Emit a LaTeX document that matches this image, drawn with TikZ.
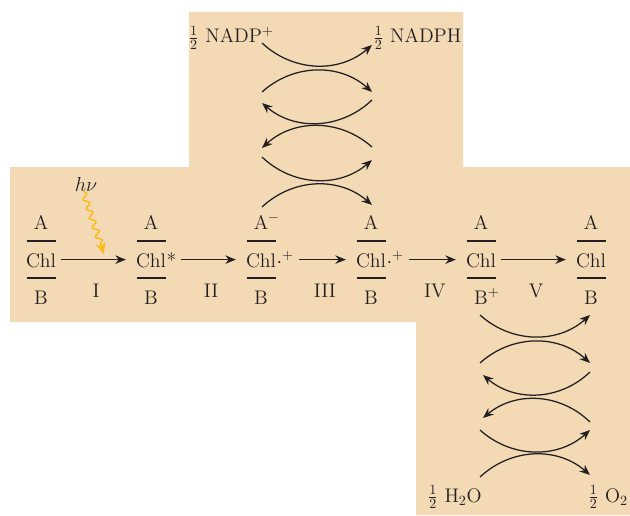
\documentclass[tikz,border=0pt]{standalone}
\usepackage{amsmath}
\usepackage{xcolor}
\usepackage{tikz}
\usetikzlibrary{arrows.meta,positioning,calc,decorations.pathmorphing}
\definecolor{psbeige}{RGB}{243,218,181}
\definecolor{psink}{RGB}{35,31,32}
\definecolor{psgold}{RGB}{253,185,19}

\begin{document}
\begin{tikzpicture}[
  x=0.025cm, y=0.025cm,
  font=\fontsize{14}{16}\selectfont,
  color=psink,
  lbl/.style={inner sep=0pt, anchor=base},
  chem/.style={inner sep=0pt, anchor=base, text height=10.5pt, text depth=0pt},
  supr/.style={inner sep=0pt, anchor=base west, text height=10.5pt, text depth=0pt},
  bar/.style={line width=1.1pt},
  stage/.style={inner sep=0pt, below=17pt},
  >={Stealth[length=7.5pt,width=6pt]},
  arrline/.style={->, line width=0.9pt, shorten <=3.5pt, shorten >=7pt},
  cyc/.style={->, line width=0.9pt},
  photon/.style={decorate, decoration={snake, amplitude=2pt, segment length=7pt, post length=6pt},
    -{Stealth[length=8pt,width=7pt]}, draw=psgold, line width=1pt},
]
\useasboundingbox (0,0) rectangle (630,515);

% ============ Background panel ============
\fill[psbeige] (189,503) -- (463,503) -- (463,348) -- (630,348) -- (630,0) -- (416,0)
  -- (416,193) -- (10,193) -- (10,348) -- (189,348) -- cycle;

% ============ A row ============
\node[lbl] (a1) at (41,286) {A};
\node[lbl] (a2) at (151,286) {A};
\node[lbl] (a3) at (261,286) {A\rlap{$^{-}$}};
\node[lbl] (a4) at (371,286) {A};
\node[lbl] (a5) at (481,286) {A};
\node[lbl] (a6) at (591,286) {A};

% ============ Chl row ============
\node[chem] (c1) at (41,248) {Chl};
\node[chem] (c2) at (151,248) {Chl};
\node[supr] (s2) at (c2.base east) {*};
\node[chem] (c3) at (261,248) {Chl};
\node[supr] (s3) at (c3.base east) {$\cdot^{+}$};
\node[chem] (c4) at (371,248) {Chl};
\node[supr] (s4) at (c4.base east) {$\cdot^{+}$};
\node[chem] (c5) at (481,248) {Chl};
\node[chem] (c6) at (591,248) {Chl};

% ============ B row ============
\node[lbl] (b1) at (41,211) {B};
\node[lbl] (b2) at (151,211) {B};
\node[lbl] (b3) at (261,211) {B};
\node[lbl] (b4) at (371,211) {B};
\node[lbl] (b5) at (481,211) {B\rlap{$^{+}$}};
\node[lbl] (b6) at (591,211) {B};

% bars above and below Chl
\draw[bar] (26.5,274) -- +(29,0) (26.5,237) -- +(29,0);
\draw[bar] (136.5,274) -- +(29,0) (136.5,237) -- +(29,0);
\draw[bar] (246.5,274) -- +(29,0) (246.5,237) -- +(29,0);
\draw[bar] (356.5,274) -- +(29,0) (356.5,237) -- +(29,0);
\draw[bar] (466.5,274) -- +(29,0) (466.5,237) -- +(29,0);
\draw[bar] (576.5,274) -- +(29,0) (576.5,237) -- +(29,0);

% ============ Main steps I--V ============
\draw[arrline] (c1.east) -- coordinate[pos=0.6] (hit) node[stage] {I} (c2.west);
\draw[arrline] (s2.east) -- node[stage] {II} (c3.west);
\draw[arrline] (s3.east) -- node[stage] {III} (c4.west);
\draw[arrline] (s4.east) -- node[stage] {IV} (c5.west);
\draw[arrline] (c5.east) -- node[stage] {V} (c6.west);

% light quantum
\node[lbl] (hv) at (86,324) {$h\nu$};
\draw[photon] ([xshift=-2pt]hv.south) -- ([yshift=4pt]hit);

% ============ Acceptor side (top) ============
\node[lbl, anchor=base east] (nadp) at (274,472) {$\tfrac12$ NADP$^{+}$};
\node[lbl, anchor=base west] (nadph) at (373,472) {$\tfrac12$ NADPH};

\coordinate (n2l) at (262,423);
\coordinate (n2r) at (372,423);
\coordinate (n3r) at (372,415);
\coordinate (n3l) at (262,412);
\coordinate (n4r) at (372,368);
\coordinate (n4l) at (262,367);
\coordinate (n5l) at (262,358);
\coordinate (n5r) at (372,355);

\draw[cyc] ($(nadp.base east)+(-12,0)$) to[bend right=42] ($(nadph.base west)+(-1,-2)$);
\draw[cyc] (n2l) to[bend left=42] (n2r);
\draw[cyc] (n3r) to[bend left=42] (n3l);
\draw[cyc] (n4r) to[bend right=42] (n4l);
\draw[cyc] (n5l) to[bend right=42] (n5r);
\draw[cyc] ($(a3.base)+(1,22)$) to[bend left=42] ($(a4.base)+(1,24)$);

% ============ Donor side (bottom right) ============
\node[lbl, anchor=base east] (h2o) at (482,13) {$\tfrac12$ H$_2$O};
\node[lbl, anchor=base west] (o2) at (588,13) {$\tfrac12$ O$_2$};

\coordinate (w2l) at (480,152);
\coordinate (w2r) at (590,152);
\coordinate (w3r) at (590,143);
\coordinate (w3l) at (483,140);
\coordinate (w4r) at (590,93);
\coordinate (w4l) at (483,97);
\coordinate (w5l) at (480,85);
\coordinate (w5r) at (590,85);

\draw[cyc] ($(b5.base)+(-1,-11)$) to[bend right=42] ($(b6.base)+(-1,-11)$);
\draw[cyc] (w2l) to[bend left=42] (w2r);
\draw[cyc] (w3r) to[bend left=42] (w3l);
\draw[cyc] (w4r) to[bend right=42] (w4l);
\draw[cyc] (w5l) to[bend right=42] (w5r);
\draw[cyc] ($(h2o.base east)+(-2,25)$) to[bend left=42] ($(o2.base west)+(2,27)$);

\end{tikzpicture}
\end{document}
